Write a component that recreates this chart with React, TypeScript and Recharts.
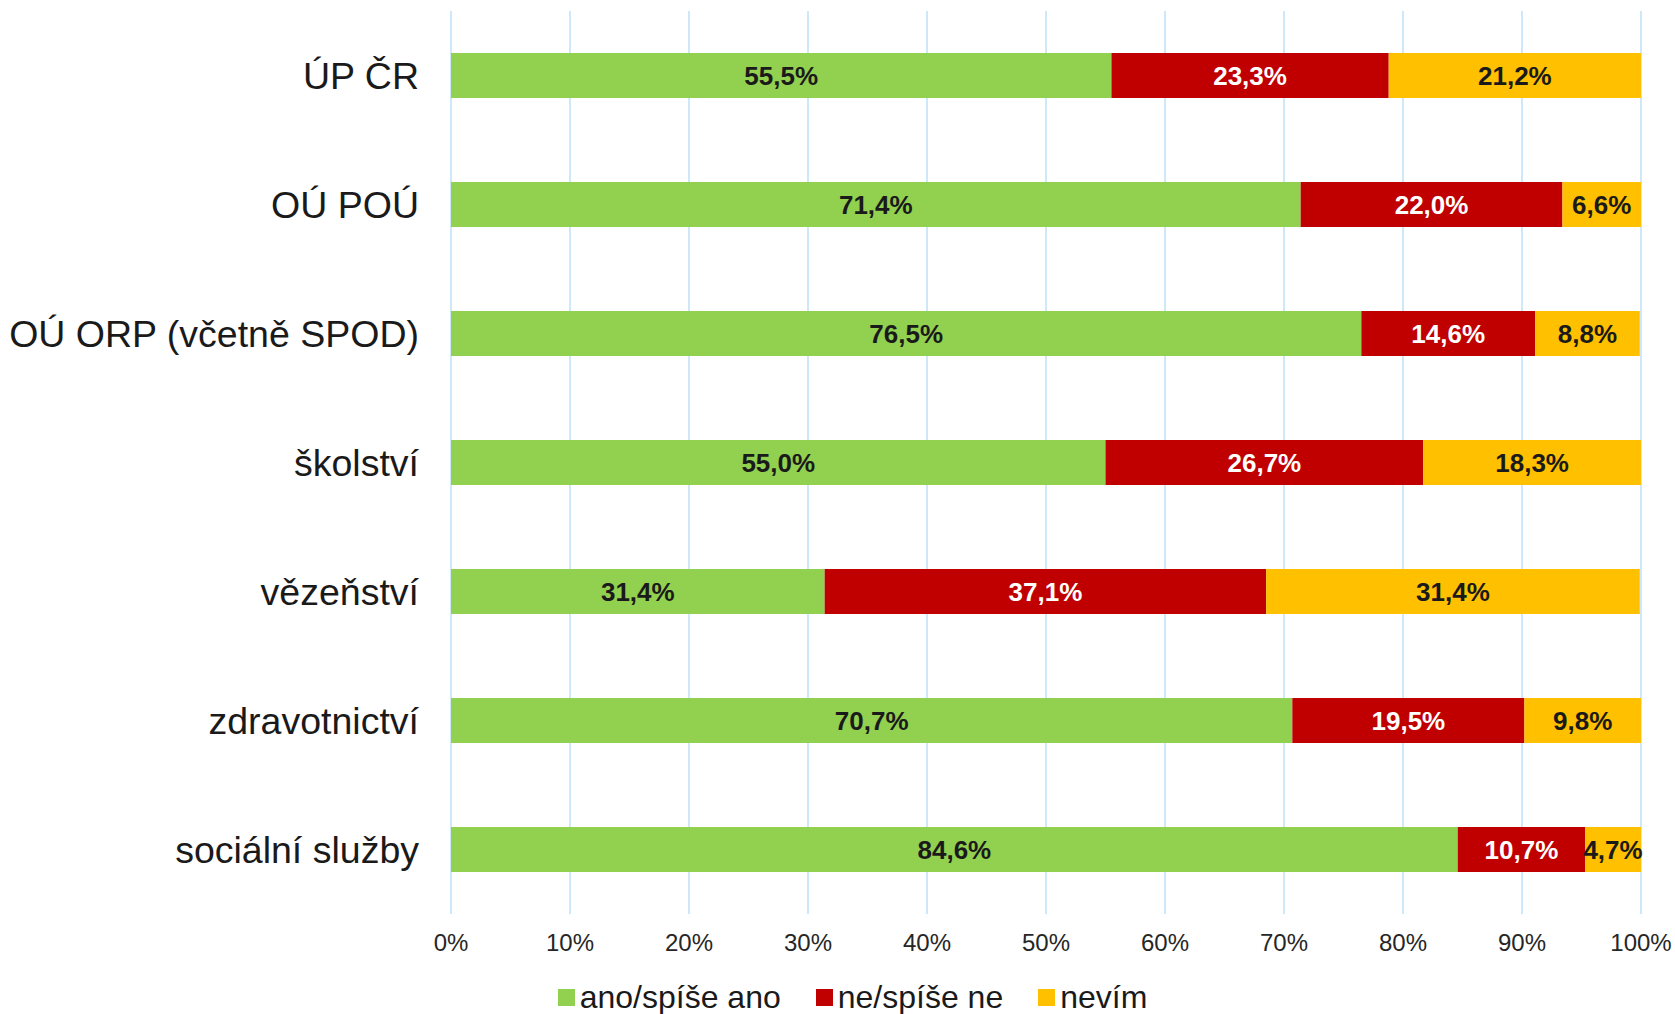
import React from "react";
import {
  BarChart,
  Bar,
  XAxis,
  YAxis,
  CartesianGrid,
  Legend,
  LabelList,
} from "recharts";

const categories = [
  "ÚP ČR",
  "OÚ POÚ",
  "OÚ ORP (včetně SPOD)",
  "školství",
  "vězeňství",
  "zdravotnictví",
  "sociální služby",
];
const anoValues = [55.5, 71.4, 76.5, 55.0, 31.4, 70.7, 84.6];
const neValues = [23.3, 22.0, 14.6, 26.7, 37.1, 19.5, 10.7];
const nevimValues = [21.2, 6.6, 8.8, 18.3, 31.4, 9.8, 4.7];
const xTicks = [0, 10, 20, 30, 40, 50, 60, 70, 80, 90, 100];

const seriesList = [
  { key: "ano", name: "ano/spíše ano", color: "#92d050", text: "#1a1a1a" },
  { key: "ne", name: "ne/spíše ne", color: "#c00000", text: "#ffffff" },
  { key: "nevim", name: "nevím", color: "#ffc000", text: "#1a1a1a" },
];

const data = categories.map((name, i) => ({
  name,
  ano: anoValues[i],
  ne: neValues[i],
  nevim: nevimValues[i],
}));

const fmt = (v: number) => `${v.toFixed(1).replace(".", ",")}%`;

const FONT = '"Liberation Sans", Arial, sans-serif';

const LegendContent = () => (
  <div
    style={{
      display: "flex",
      justifyContent: "center",
      alignItems: "center",
      fontFamily: FONT,
      fontSize: 32,
      color: "#1a1a1a",
      gap: 35,
    }}
  >
    {seriesList.map((s) => (
      <div key={s.key} style={{ display: "flex", alignItems: "center" }}>
        <span
          style={{
            display: "inline-block",
            width: 17,
            height: 17,
            background: s.color,
            marginRight: 5,
          }}
        />
        <span>{s.name}</span>
      </div>
    ))}
  </div>
);

export default function App() {
  return (
    <div style={{ position: "absolute", left: 0, top: 0, background: "#fff" }}>
      <BarChart
        width={1675}
        height={1014}
        data={data}
        layout="vertical"
        margin={{ top: 11, right: 34, bottom: 13, left: 0 }}
        barSize={45}
        style={{ fontFamily: FONT }}
      >
        <CartesianGrid horizontal={false} stroke="#cde8f9" strokeWidth={2} />
        <XAxis
          type="number"
          domain={[0, 100]}
          ticks={xTicks}
          tickFormatter={(v) => `${v}%`}
          axisLine={false}
          tickLine={false}
          tickSize={0}
          tickMargin={20}
          tick={{ fontSize: 24, fill: "#262626" }}
          height={50}
        />
        <YAxis
          type="category"
          dataKey="name"
          width={451}
          axisLine={false}
          tickLine={false}
          tickSize={0}
          tickMargin={32}
          tick={{ fontSize: 37.5, fill: "#1a1a1a" }}
        />
        <Legend
          content={<LegendContent />}
          wrapperStyle={{ position: "absolute", top: 979, left: 15, width: 1675 }}
        />
        {seriesList.map((s) => (
          <Bar
            key={s.key}
            dataKey={s.key}
            name={s.name}
            stackId="a"
            fill={s.color}
            isAnimationActive={false}
          >
            <LabelList
              dataKey={s.key}
              position="center"
              formatter={(v: any) => fmt(Number(v))}
              style={{ fontSize: 26, fontWeight: "bold", fill: s.text }}
            />
          </Bar>
        ))}
      </BarChart>
    </div>
  );
}
